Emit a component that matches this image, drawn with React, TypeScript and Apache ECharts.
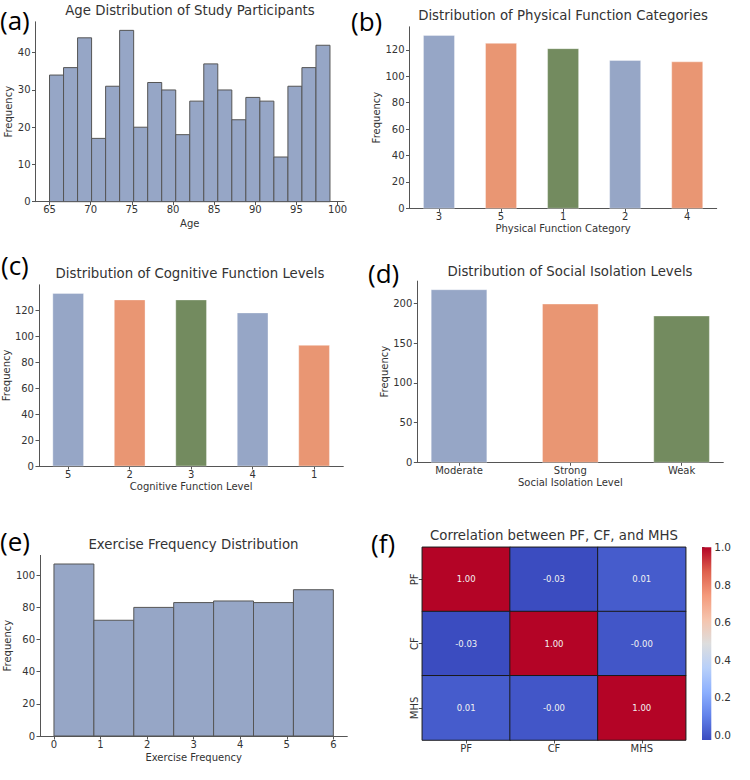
import React, { useEffect, useRef } from "react";
import * as echarts from "echarts";

// ---- data ----
const ageCounts = [34, 36, 44, 17, 31, 46, 20, 32, 30, 18, 27, 37, 30, 22, 28, 27, 12, 31, 36, 42];
const ageRange = [65, 99.07];
const ageTicks = [65, 70, 75, 80, 85, 90, 95, 100];
const ageYTicks = [0, 10, 20, 30, 40];

const pfCategories = ["3", "5", "1", "2", "4"];
const pfCounts = [131, 125, 121, 112, 111];
const pfYTicks = [0, 20, 40, 60, 80, 100, 120];

const cfCategories = ["5", "2", "3", "4", "1"];
const cfCounts = [133, 128, 128, 118, 93];
const cfYTicks = [0, 20, 40, 60, 80, 100, 120];

const siCategories = ["Moderate", "Strong", "Weak"];
const siCounts = [217, 199, 184];
const siYTicks = [0, 50, 100, 150, 200];

const exCounts = [107, 72, 80, 83, 84, 83, 91];
const exRange = [0, 6];
const exTicks = [0, 1, 2, 3, 4, 5, 6];
const exYTicks = [0, 20, 40, 60, 80, 100];

const corrLabels = ["PF", "CF", "MHS"];
const corrMatrix = [
  [1.0, -0.027, 0.01],
  [-0.027, 1.0, -0.004],
  [0.01, -0.004, 1.0],
];
const colorbarTicks = [0, 0.2, 0.4, 0.6, 0.8, 1.0];

// ---- styling ----
const FONT = '"DejaVu Sans", sans-serif';
const TEXT = "#333333";
const AXIS = "#555555";
const BLUE = "#96a6c6";
const ORANGE = "#e99673";
const GREEN = "#738b5f";
const barPalette = [BLUE, ORANGE, GREEN];
const coolwarm = ["#3b4cc0", "#6282ea", "#8db0fe", "#b8d0f9", "#dddddd", "#f5c4ad", "#f49a7b", "#de604d", "#b40426"];

function histBins(counts: number[], range: number[]) {
  const w = (range[1] - range[0]) / counts.length;
  return counts.map((c, i) => [range[0] + i * w, range[0] + (i + 1) * w, c, 0]);
}
function catBars(counts: number[]) {
  return counts.map((c, i) => [i - 0.25, i + 0.25, c, i % 3]);
}

function rectRenderer(stroke: string | null, lineWidth: number) {
  return (params: any, api: any) => {
    const p0 = api.coord([api.value(0), api.value(2)]);
    const p1 = api.coord([api.value(1), 0]);
    const fill = barPalette[api.value(3)];
    return {
      type: "rect",
      shape: { x: p0[0], y: p0[1], width: p1[0] - p0[0], height: p1[1] - p0[1] },
      style: { fill, stroke: stroke || "rgba(255,255,255,0.35)", lineWidth },
    };
  };
}

const axisLineStyle = { show: true, onZero: false, lineStyle: { color: AXIS, width: 1 } };
const labelStyle = { color: TEXT, fontSize: 10, fontFamily: FONT };
const nameStyle = { color: TEXT, fontSize: 10, fontFamily: FONT };

function valueAxis(gridIndex: number, min: number, max: number, ticks: number[], extra: any = {}, margin = 4) {
  const { axisLabel: extraLabel, ...rest } = extra;
  return {
    type: "value",
    gridIndex,
    min,
    max,
    axisLine: axisLineStyle,
    axisTick: { show: true, length: 3.5, inside: false, customValues: ticks, lineStyle: { color: AXIS } },
    axisLabel: { ...labelStyle, margin, customValues: ticks, ...(extraLabel || {}) },
    splitLine: { show: false },
    nameTextStyle: nameStyle,
    ...rest,
  };
}

function freqAxis(gridIndex: number, counts: number[], ticks: number[], gap: number) {
  return valueAxis(
    gridIndex,
    0,
    Math.max(...counts) * 1.05,
    ticks,
    { name: "Frequency", nameLocation: "middle", nameRotate: 90, nameGap: gap },
    5
  );
}

function histXAxis(gridIndex: number, range: number[], ticks: number[], name: string, gap: number) {
  const pad = (range[1] - range[0]) * 0.05;
  return valueAxis(
    gridIndex,
    range[0] - pad,
    range[1] + pad,
    ticks,
    { name, nameLocation: "middle", nameGap: gap },
    3
  );
}

function catXAxis(gridIndex: number, cats: string[], name: string, gap: number) {
  const pad = (cats.length - 0.5) * 0.05;
  const ticks = cats.map((_, i) => i);
  return valueAxis(
    gridIndex,
    -0.25 - pad,
    cats.length - 0.75 + pad,
    ticks,
    {
      name,
      nameLocation: "middle",
      nameGap: gap,
      axisLabel: { formatter: (v: number) => cats[Math.round(v)] ?? "" },
    },
    3
  );
}

function titleAt(text: string, cx: number, cy: number) {
  return {
    text,
    left: cx,
    top: cy - 8,
    textAlign: "center",
    padding: 0,
    textStyle: { color: TEXT, fontSize: 13.3, fontWeight: "normal", fontFamily: FONT },
  };
}

function panelLabel(text: string, x: number, cy: number) {
  return {
    type: "text",
    x,
    y: cy,
    style: { text, fill: "#000", font: '26px "Open Sans", sans-serif', verticalAlign: "middle", align: "left" },
  };
}

export default function App() {
  const ref = useRef<HTMLDivElement>(null);

  useEffect(() => {
    if (!ref.current) return;
    const chart = echarts.init(ref.current, null, { renderer: "svg" });

    const allCorr = corrMatrix.flat();
    const cbMin = Math.min(...allCorr);
    const cbMax = Math.max(...allCorr);
    const heatData: number[][] = [];
    corrMatrix.forEach((row, yi) => row.forEach((v, xi) => heatData.push([xi, yi, v])));

    const option: any = {
      animation: false,
      backgroundColor: "#ffffff",
      title: [
        titleAt("Age Distribution of Study Participants", 190, 12),
        titleAt("Distribution of Physical Function Categories", 563, 17),
        titleAt("Distribution of Cognitive Function Levels", 190, 275),
        titleAt("Distribution of Social Isolation Levels", 570, 272.5),
        titleAt("Exercise Frequency Distribution", 193.5, 546),
        titleAt("Correlation between PF, CF, and MHS", 554, 536.5),
      ],
      grid: [
        { left: 35.5, top: 21.8, width: 308.5, height: 179.9 },
        { left: 409.5, top: 26.8, width: 307.2, height: 181.5 },
        { left: 36.7, top: 284.8, width: 306.6, height: 181.2 },
        { left: 417.3, top: 281.1, width: 306, height: 181.2 },
        { left: 40, top: 555.4, width: 307.3, height: 180.6 },
        { left: 422.3, top: 547.3, width: 263.4, height: 192.7 },
        { left: 702, top: 547.3, width: 9.3, height: 192.7 },
      ],
      xAxis: [
        histXAxis(0, ageRange, ageTicks, "Age", 16.5),
        catXAxis(1, pfCategories, "Physical Function Category", 15.5),
        catXAxis(2, cfCategories, "Cognitive Function Level", 15),
        catXAxis(3, siCategories, "Social Isolation Level", 15.5),
        histXAxis(4, exRange, exTicks, "Exercise Frequency", 16),
        {
          type: "category",
          gridIndex: 5,
          data: corrLabels,
          axisLine: { show: false },
          axisTick: { show: true, length: 3.5, alignWithLabel: true, lineStyle: { color: AXIS } },
          axisLabel: { ...labelStyle, margin: 3.5 },
          splitLine: { show: false },
        },
        { type: "value", gridIndex: 6, min: 0, max: 1, show: false },
      ],
      yAxis: [
        freqAxis(0, ageCounts, ageYTicks, 19.5),
        freqAxis(1, pfCounts, pfYTicks, 25.5),
        freqAxis(2, cfCounts, cfYTicks, 27),
        freqAxis(3, siCounts, siYTicks, 25.5),
        freqAxis(4, exCounts, exYTicks, 26),
        {
          type: "category",
          gridIndex: 5,
          data: corrLabels,
          inverse: true,
          axisLine: { show: false },
          axisTick: { show: true, length: 3.5, alignWithLabel: true, lineStyle: { color: AXIS } },
          axisLabel: { ...labelStyle, margin: 3, rotate: 90 },
          splitLine: { show: false },
        },
        {
          type: "value",
          gridIndex: 6,
          position: "right",
          min: cbMin,
          max: cbMax,
          axisLine: { show: false },
          axisTick: { show: true, length: 2.5, customValues: colorbarTicks, lineStyle: { color: AXIS } },
          axisLabel: {
            ...labelStyle,
            fontSize: 10.5,
            margin: 3,
            customValues: colorbarTicks,
            formatter: (v: number) => v.toFixed(1),
          },
          splitLine: { show: false },
        },
      ],
      visualMap: {
        type: "continuous",
        show: false,
        min: cbMin,
        max: cbMax,
        dimension: 2,
        seriesIndex: 5,
        inRange: { color: coolwarm },
      },
      series: [
        {
          type: "custom",
          xAxisIndex: 0,
          yAxisIndex: 0,
          renderItem: rectRenderer("#555555", 1),
          encode: { x: [0, 1], y: 2 },
          data: histBins(ageCounts, ageRange),
        },
        {
          type: "custom",
          xAxisIndex: 1,
          yAxisIndex: 1,
          renderItem: rectRenderer(null, 1),
          encode: { x: [0, 1], y: 2 },
          data: catBars(pfCounts),
        },
        {
          type: "custom",
          xAxisIndex: 2,
          yAxisIndex: 2,
          renderItem: rectRenderer(null, 1),
          encode: { x: [0, 1], y: 2 },
          data: catBars(cfCounts),
        },
        {
          type: "custom",
          xAxisIndex: 3,
          yAxisIndex: 3,
          renderItem: rectRenderer(null, 1),
          encode: { x: [0, 1], y: 2 },
          data: catBars(siCounts),
        },
        {
          type: "custom",
          xAxisIndex: 4,
          yAxisIndex: 4,
          renderItem: rectRenderer("#555555", 1),
          encode: { x: [0, 1], y: 2 },
          data: histBins(exCounts, exRange),
        },
        {
          type: "heatmap",
          xAxisIndex: 5,
          yAxisIndex: 5,
          data: heatData,
          itemStyle: { borderColor: "#1a1a1a", borderWidth: 1 },
          label: {
            show: true,
            color: "#f2f2f2",
            fontSize: 8.5,
            fontFamily: FONT,
            formatter: (p: any) => p.value[2].toFixed(2),
          },
          emphasis: { disabled: true },
        },
        {
          type: "custom",
          xAxisIndex: 6,
          yAxisIndex: 6,
          encode: { x: 0, y: [1, 2] },
          data: [[0, cbMin, cbMax]],
          renderItem: (params: any, api: any) => {
            const top = api.coord([0, api.value(2)]);
            const bottom = api.coord([1, api.value(1)]);
            const stops = coolwarm.map((c, i) => ({ offset: i / (coolwarm.length - 1), color: c }));
            return {
              type: "rect",
              shape: { x: top[0], y: top[1], width: bottom[0] - top[0], height: bottom[1] - top[1] },
              style: { fill: new echarts.graphic.LinearGradient(0, 1, 0, 0, stops) },
            };
          },
        },
      ],
      graphic: [
        panelLabel("(a)", 0, 20),
        panelLabel("(b)", 351, 21),
        panelLabel("(c)", 1, 265),
        panelLabel("(d)", 368, 273),
        panelLabel("(e)", 0, 541),
        panelLabel("(f)", 371, 543),
      ],
    };

    chart.setOption(option);
    return () => chart.dispose();
  }, []);

  return (
    <div
      ref={ref}
      style={{ position: "absolute", left: 0, top: 0, width: 750, height: 780, background: "#fff" }}
    />
  );
}
